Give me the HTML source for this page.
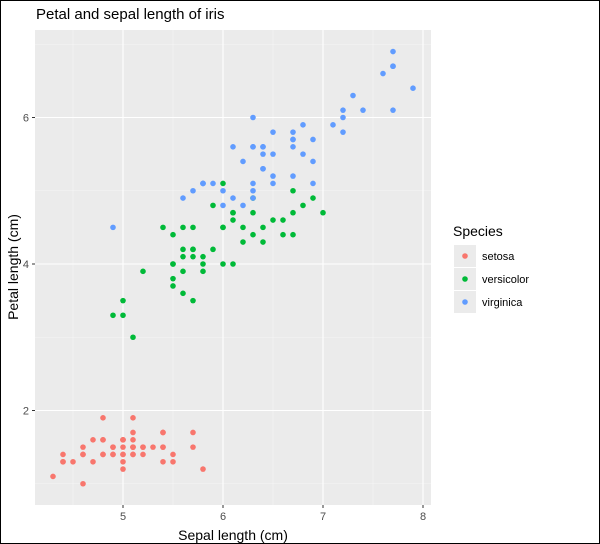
<!DOCTYPE html>
<html><head><meta charset="utf-8"><style>
body{margin:0;background:#fff}
svg{display:block;font-family:"Liberation Sans",Arial,sans-serif}
</style></head><body>
<svg id="chart" width="600" height="544">
<rect x="0.5" y="0.5" width="599" height="543" fill="#fff" stroke="#000"/>
<text x="36" y="19" font-size="15" fill="#000">Petal and sepal length of iris</text>
<rect x="35" y="30" width="396" height="475" fill="#ebebeb"/>
<g id="grid"></g>
<g id="points"></g>
<g id="axes"></g>
<text x="233" y="540" font-size="14" text-anchor="middle">Sepal length (cm)</text>
<text transform="translate(18,267) rotate(-90)" font-size="14" text-anchor="middle">Petal length (cm)</text>
<g>
<text x="453" y="236" font-size="14">Species</text>
<g id="legend-keys"></g>
</g>
</svg>
<script>
const species=["setosa","versicolor","virginica"];
const colors=["#f8766d","#00ba38","#619cff"];
const xTicks=[5,6,7,8];
const yTicks=[2,4,6];
const setosaSepal=[5.1,4.9,4.7,4.6,5.0,5.4,4.6,5.0,4.4,4.9,5.4,4.8,4.8,4.3,5.8,5.7,5.4,5.1,5.7,5.1,5.4,5.1,4.6,5.1,4.8,5.0,5.0,5.2,5.2,4.7,4.8,5.4,5.2,5.5,4.9,5.0,5.5,4.9,4.4,5.1,5.0,4.5,4.4,5.0,5.1,4.8,5.1,4.6,5.3,5.0];
const setosaPetal=[1.4,1.4,1.3,1.5,1.4,1.7,1.4,1.5,1.4,1.5,1.5,1.6,1.4,1.1,1.2,1.5,1.3,1.4,1.7,1.5,1.7,1.5,1.0,1.7,1.9,1.6,1.6,1.5,1.4,1.6,1.6,1.5,1.5,1.4,1.5,1.2,1.3,1.4,1.3,1.5,1.3,1.3,1.3,1.6,1.9,1.4,1.6,1.4,1.5,1.4];
const versicolorSepal=[7.0,6.4,6.9,5.5,6.5,5.7,6.3,4.9,6.6,5.2,5.0,5.9,6.0,6.1,5.6,6.7,5.6,5.8,6.2,5.6,5.9,6.1,6.3,6.1,6.4,6.6,6.8,6.7,6.0,5.7,5.5,5.5,5.8,6.0,5.4,6.0,6.7,6.3,5.6,5.5,5.5,6.1,5.8,5.0,5.6,5.7,5.7,6.2,5.1,5.7];
const versicolorPetal=[4.7,4.5,4.9,4.0,4.6,4.5,4.7,3.3,4.6,3.9,3.5,4.2,4.0,4.7,3.6,4.4,4.5,4.1,4.5,3.9,4.8,4.0,4.9,4.7,4.3,4.4,4.8,5.0,4.5,3.5,3.8,3.7,3.9,5.1,4.5,4.5,4.7,4.4,4.1,4.0,4.4,4.6,4.0,3.3,4.2,4.2,4.2,4.3,3.0,4.1];
const virginicaSepal=[6.3,5.8,7.1,6.3,6.5,7.6,4.9,7.3,6.7,7.2,6.5,6.4,6.8,5.7,5.8,6.4,6.5,7.7,7.7,6.0,6.9,5.6,7.7,6.3,6.7,7.2,6.2,6.1,6.4,7.2,7.4,7.9,6.4,6.3,6.1,7.7,6.3,6.4,6.0,6.9,6.7,6.9,5.8,6.8,6.7,6.7,6.3,6.5,6.2,5.9];
const virginicaPetal=[6.0,5.1,5.9,5.6,5.8,6.6,4.5,6.3,5.8,6.1,5.1,5.3,5.5,5.0,5.1,5.3,5.5,6.7,6.9,5.0,5.7,4.9,6.7,4.9,5.7,6.0,4.8,4.9,5.6,5.8,6.1,6.4,5.6,5.1,5.6,6.1,5.6,5.5,4.8,5.4,5.6,5.1,5.1,5.9,5.7,5.2,5.0,5.2,5.4,5.1];

const NS="http://www.w3.org/2000/svg";
const X=v=>123+(v-5)*100;
const Y=v=>264-(v-4)*73.25;
function mk(tag,attrs,parent){const e=document.createElementNS(NS,tag);for(const k in attrs)e.setAttribute(k,attrs[k]);parent.appendChild(e);return e;}
const grid=document.getElementById('grid'),axes=document.getElementById('axes'),pts=document.getElementById('points');
[4.5,5.5,6.5,7.5].forEach(v=>{const l=mk('line',{x1:X(v),x2:X(v),y1:30,y2:505,stroke:'#f5f5f5','stroke-width':0.6},grid);

});
[1,3,5,7].forEach(v=>{const l=mk('line',{x1:35,x2:431,y1:Y(v),y2:Y(v),stroke:'#f5f5f5','stroke-width':0.6},grid);

});
xTicks.forEach(v=>{const l=mk('line',{x1:X(v),x2:X(v),y1:30,y2:505,stroke:'#fff','stroke-width':1.1},grid);


const t=mk('line',{x1:X(v),x2:X(v),y1:505,y2:508,stroke:'#333'},axes);


const tx=mk('text',{x:X(v),y:520,'font-size':11,fill:'#4d4d4d','text-anchor':'middle'},axes);tx.textContent=v;

});
yTicks.forEach(v=>{const l=mk('line',{x1:35,x2:431,y1:Y(v),y2:Y(v),stroke:'#fff','stroke-width':1.1},grid);


const t=mk('line',{x1:32,x2:35,y1:Y(v),y2:Y(v),stroke:'#333'},axes);


const tx=mk('text',{x:29,y:Y(v)+4,'font-size':11,fill:'#4d4d4d','text-anchor':'end'},axes);tx.textContent=v;

});
const series=[[setosaSepal,setosaPetal],[versicolorSepal,versicolorPetal],[virginicaSepal,virginicaPetal]];
series.forEach((s,i)=>{s[0].forEach((xv,j)=>{const c=mk('circle',{cx:X(xv),cy:Y(s[1][j]),r:2.8,fill:colors[i]},pts);

});});
const lk=document.getElementById('legend-keys');
species.forEach((sp,i)=>{const y0=245+i*23;
const r=mk('rect',{x:454,y:y0,width:22,height:22,fill:'#ebebeb'},lk);


mk('circle',{cx:465,cy:y0+11,r:2.8,fill:colors[i]},lk);
const t=mk('text',{x:482,y:y0+15,'font-size':11,fill:'#000'},lk);t.textContent=sp;

});
</script>
</body></html>
